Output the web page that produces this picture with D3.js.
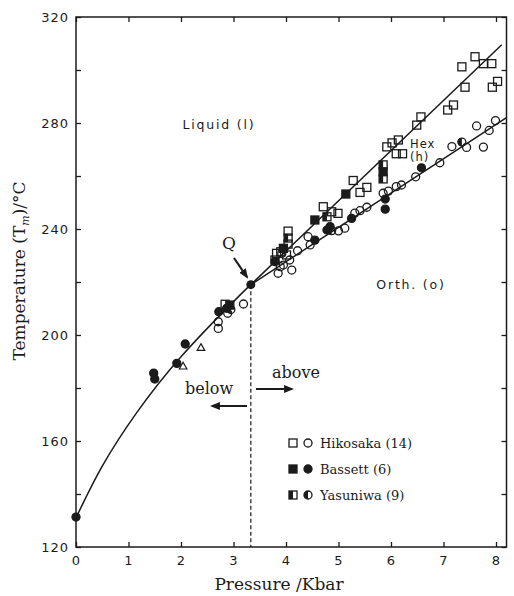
<!DOCTYPE html>
<html>
<head>
<meta charset="utf-8">
<script src="https://cdn.jsdelivr.net/npm/d3@7"></script>
<style>
  body { margin: 0; background: #fff; }
  .tick text { font-family: "DejaVu Sans", sans-serif; font-size: 13px; letter-spacing: 1px; fill: #1b1b1b; }
  .tick line { stroke: #1b1b1b; stroke-width: 1.3; }
  .serif { font-family: "DejaVu Serif", serif; fill: #1b1b1b; }
  .sans { font-family: "DejaVu Sans", sans-serif; fill: #1b1b1b; letter-spacing: 1.8px; }
</style>
</head>
<body>
<script>
// values: [pressure kbar, temperature C]
var xTicks = [0, 1, 2, 3, 4, 5, 6, 7, 8];
var yTicks = [120, 140, 160, 180, 200, 220, 240, 260, 280, 300, 320];
var yLabels = [120, 160, 200, 240, 280, 320];

var qPoint = [3.33, 219];
var lowCurve = [[0, 131], [0.5, 150.5], [1.15, 170.5], [2, 191.8], [3, 212.6], [3.33, 219]];
var hexLine = [[3.33, 219], [8.11, 309.5]];
var orthLine = [[3.33, 219], [8.2, 282]];

var hikoSquares = [[2.84, 211.6], [3.79, 228.3], [3.82, 230.8], [3.9, 231.4], [4.01, 230.2],
  [4.04, 239.2], [4.04, 234.3], [4.71, 248.4], [4.87, 246.5], [4.99, 245.9], [5.28, 258.3],
  [5.41, 253.8], [5.54, 255.7], [5.92, 271], [6.02, 272.5], [6.14, 273.6], [6.1, 268.4],
  [6.22, 268.4], [6.49, 279.2], [6.57, 282.3], [7.08, 284.9], [7.19, 286.8], [7.35, 301.2],
  [7.41, 293.5], [7.6, 305], [7.76, 302.4], [7.92, 302.4], [7.93, 293.5], [8.03, 295.7]];
var hikoCircles = [[2.71, 205], [2.71, 202.5], [2.89, 208.2], [3.19, 211.7], [3.85, 223.3],
  [3.89, 225.8], [3.95, 226.4], [4.11, 224.5], [4.07, 228.3], [3.92, 230.8], [4.22, 231.8],
  [4.42, 237.1], [4.46, 234], [5, 239.3], [5.12, 240.3], [5.31, 246], [5.41, 246.9],
  [5.54, 248.2], [5.85, 253.5], [5.95, 254.3], [6.1, 256], [6.2, 256.6], [6.47, 259.7],
  [6.93, 265], [7.16, 271.1], [7.44, 270.8], [7.63, 278.9], [7.76, 270.9], [7.87, 277.2],
  [7.99, 280.9]];
var bassSquares = [[2.93, 211.3], [3.95, 232.7], [4.55, 243.4], [5.14, 253.2], [5.85, 261.6]];
var bassCircles = [[0, 131.3], [1.48, 185.6], [1.5, 183.4], [1.92, 189.3], [2.08, 196.6],
  [2.72, 208.8], [2.87, 210.1], [3.79, 227.7], [4.55, 235.8], [4.78, 239.6], [4.84, 240.9],
  [5.25, 244], [5.89, 251.3], [5.89, 247.5], [6.58, 263.1]];
var yasuSquares = [[4.04, 236.6], [4.78, 244.6], [5.85, 264.2], [5.85, 258.9]];
var yasuCircles = [[2.95, 209.6], [4.87, 239.4], [7.35, 272.8]];
var triangles = [[2.04, 188.3], [2.38, 195.3]];

var legendNames = ["Hikosaka (14)", "Bassett (6)", "Yasuniwa (9)"];
var legendFills = ["open", "full", "half"];

var ink = "#1b1b1b";
var W = 514, H = 596;

var svg = d3.select("body").append("svg")
  .attr("width", W)
  .attr("height", H);

var x = d3.scaleLinear().domain([0, 8.2]).range([76, 506.5]);
var y = d3.scaleLinear().domain([120, 320]).range([547, 17]);

// axes, ticks pointing inward
svg.append("g")
  .attr("transform", "translate(0," + y(120) + ")")
  .call(d3.axisBottom(x).tickValues(xTicks).tickSize(-5).tickPadding(9).tickFormat(d3.format("d")))
  .call(g => g.select(".domain").remove());
svg.append("g")
  .attr("transform", "translate(0," + y(320) + ")")
  .call(d3.axisTop(x).tickValues(xTicks).tickSize(-5).tickFormat(""))
  .call(g => g.select(".domain").remove());
svg.append("g")
  .attr("transform", "translate(" + x(0) + ",0)")
  .call(d3.axisLeft(y).tickValues(yTicks).tickSize(-5).tickPadding(7)
    .tickFormat(d => yLabels.includes(d) ? d : ""))
  .call(g => g.select(".domain").remove());
svg.append("g")
  .attr("transform", "translate(" + x(8.2) + ",0)")
  .call(d3.axisRight(y).tickValues(yTicks).tickSize(-5).tickFormat(""))
  .call(g => g.select(".domain").remove());

svg.append("rect")
  .attr("x", x(0)).attr("y", y(320))
  .attr("width", x(8.2) - x(0)).attr("height", y(120) - y(320))
  .attr("fill", "none").attr("stroke", ink).attr("stroke-width", 1.5);

// axis titles
svg.append("text").attr("class", "serif")
  .attr("x", 279).attr("y", 590)
  .attr("text-anchor", "middle").style("font-size", "17px")
  .text("Pressure /Kbar");

var yt = svg.append("text").attr("class", "serif")
  .attr("transform", "translate(25,271) rotate(-90)")
  .attr("text-anchor", "middle").style("font-size", "17px");
yt.append("tspan").text("Temperature (T");
yt.append("tspan").text("m").style("font-size", "11px").style("font-style", "italic").attr("dy", 4);
yt.append("tspan").text(")/°C").attr("dy", -4);

// phase boundaries
var curve = d3.line().x(d => x(d[0])).y(d => y(d[1])).curve(d3.curveNatural);
svg.append("path").datum(lowCurve)
  .attr("d", curve)
  .attr("fill", "none").attr("stroke", ink).attr("stroke-width", 1.5);
var straight = d3.line().x(d => x(d[0])).y(d => y(d[1]));
[hexLine, orthLine].forEach(l => {
  svg.append("path").datum(l)
    .attr("d", straight)
    .attr("fill", "none").attr("stroke", ink).attr("stroke-width", 1.5);
});

svg.append("line")
  .attr("x1", x(qPoint[0])).attr("x2", x(qPoint[0]))
  .attr("y1", y(qPoint[1])).attr("y2", y(120))
  .attr("stroke", ink).attr("stroke-width", 1.2).attr("stroke-dasharray", "4,2.5");

// markers
function marker(sel, shape, fill) {
  sel.each(function() {
    var g = d3.select(this);
    if (shape == "square") {
      g.append("rect").attr("x", -4).attr("y", -4).attr("width", 8).attr("height", 8)
        .attr("fill", fill == "full" ? ink : "none").attr("stroke", ink).attr("stroke-width", 1.3);
      if (fill == "half")
        g.append("rect").attr("x", -4).attr("y", -4).attr("width", 4).attr("height", 8).attr("fill", ink);
    } else if (shape == "circle") {
      g.append("circle").attr("r", 4)
        .attr("fill", fill == "full" ? ink : "none").attr("stroke", ink).attr("stroke-width", 1.3);
      if (fill == "half")
        g.append("path").attr("d", "M0,-4A4,4 0 0,0 0,4Z").attr("fill", ink);
    } else {
      g.append("path").attr("d", "M0,-3.8L3.8,3L-3.8,3Z")
        .attr("fill", "none").attr("stroke", ink).attr("stroke-width", 1.2);
    }
  });
}

function plot(data, shape, fill) {
  svg.append("g").selectAll("g")
    .data(data)
    .join("g")
    .attr("transform", d => "translate(" + x(d[0]) + "," + y(d[1]) + ")")
    .call(marker, shape, fill);
}

plot(hikoSquares, "square", "open");
plot(hikoCircles, "circle", "open");
plot(bassSquares, "square", "full");
plot(bassCircles, "circle", "full");
plot(yasuSquares, "square", "half");
plot(yasuCircles, "circle", "half");
plot(triangles, "triangle", "open");

svg.append("circle")
  .attr("cx", x(qPoint[0])).attr("cy", y(qPoint[1])).attr("r", 4.5).attr("fill", ink);

// labels
svg.append("text").attr("class", "sans").attr("x", 219).attr("y", 129)
  .attr("text-anchor", "middle").style("font-size", "12.5px").text("Liquid (l)");
svg.append("text").attr("class", "sans").attr("x", 410).attr("y", 148)
  .style("font-size", "11.5px").style("letter-spacing", "1px").text("Hex");
svg.append("text").attr("class", "sans").attr("x", 410).attr("y", 161)
  .style("font-size", "11.5px").style("letter-spacing", "1px").text("(h)");
svg.append("text").attr("class", "sans").attr("x", 411).attr("y", 289)
  .attr("text-anchor", "middle").style("font-size", "12.5px").text("Orth. (o)");

svg.append("text").attr("class", "serif").attr("x", 229).attr("y", 249)
  .attr("text-anchor", "middle").style("font-size", "17px").text("Q");

var defs = svg.append("defs");
defs.append("marker").attr("id", "head")
  .attr("viewBox", "0 0 10 10").attr("refX", 8).attr("refY", 5)
  .attr("markerWidth", 4.5).attr("markerHeight", 4.5).attr("orient", "auto")
  .append("path").attr("d", "M0,1L10,5L0,9Z").attr("fill", ink);

function arrow(x1, y1, x2, y2, w) {
  svg.append("line")
    .attr("x1", x1).attr("y1", y1).attr("x2", x2).attr("y2", y2)
    .attr("stroke", ink).attr("stroke-width", w)
    .attr("marker-end", "url(#head)");
}
arrow(234, 258, 247, 277, 2.2);
arrow(247, 406, 212, 406, 2.2);
arrow(256, 389, 292, 389, 2.2);

svg.append("text").attr("class", "serif").attr("x", 209).attr("y", 394)
  .attr("text-anchor", "middle").style("font-size", "16px").text("below");
svg.append("text").attr("class", "serif").attr("x", 296).attr("y", 378)
  .attr("text-anchor", "middle").style("font-size", "16px").text("above");

// legend
var leg = svg.append("g");
legendNames.forEach((name, i) => {
  var ly = 443 + i * 26;
  leg.append("g").attr("transform", "translate(293," + ly + ")").call(marker, "square", legendFills[i]);
  leg.append("g").attr("transform", "translate(308," + ly + ")").call(marker, "circle", legendFills[i]);
  leg.append("text").attr("class", "serif")
    .attr("x", 320).attr("y", ly + 4.5)
    .style("font-size", "13px").text(name);
});
</script>
</body>
</html>
